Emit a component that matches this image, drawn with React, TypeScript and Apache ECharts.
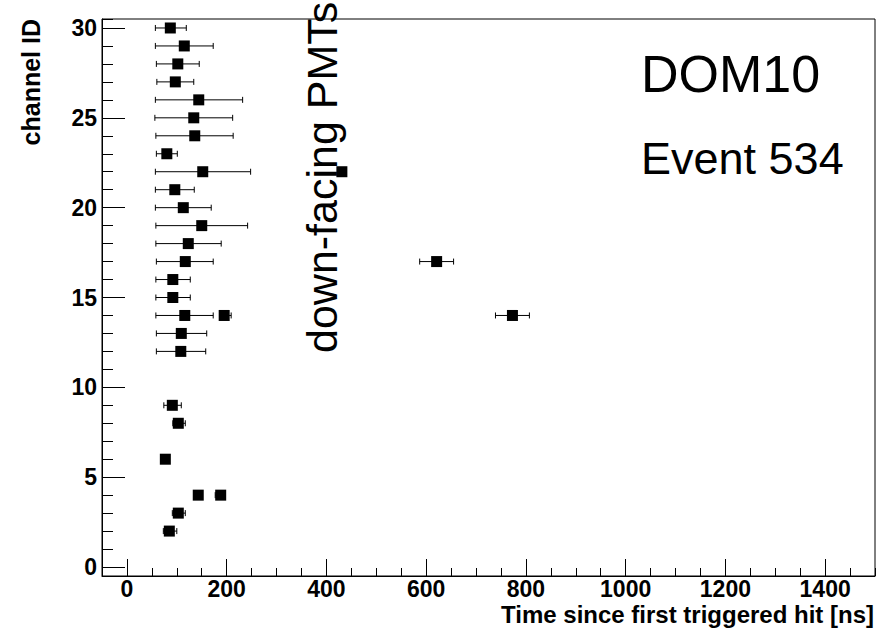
import React, { useEffect, useRef } from "react";
import * as echarts from "echarts";

// channel ID of each hit
const channelIds = [30, 29, 28, 27, 26, 25, 24, 23, 22, 22, 21, 20, 19, 18, 17, 17, 16, 15, 14, 14, 14, 13, 12, 9, 8, 6, 4, 4, 3, 2];
// time since first triggered hit [ns]
const hitTimes = [87, 115, 102, 97, 144, 134, 136, 80, 152, 431, 96, 113, 150, 123, 117, 621, 92, 92, 116, 195, 773, 109, 108, 91, 103, 77, 143, 188, 103, 85];
// lower / upper ends of the horizontal error bars [ns]
const timeErrLow = [57, 57, 59, 60, 57, 56, 58, 59, 57, 426, 57, 57, 58, 58, 59, 587, 58, 58, 58, 187, 739, 59, 59, 74, 92, 77, 143, 177, 91, 73];
const timeErrHigh = [119, 173, 145, 134, 232, 212, 213, 101, 248, 436, 135, 169, 242, 189, 173, 655, 127, 127, 173, 209, 807, 160, 158, 109, 117, 77, 143, 197, 117, 100];

const xTitle = "Time since first triggered hit [ns]";
const yTitle = "channel ID";
const domLabel = "DOM10";
const eventLabel = "Event 534";
const noteLabel = "down-facing PMTs";

export default function App() {
  const ref = useRef<HTMLDivElement>(null);
  useEffect(() => {
    if (!ref.current) return;
    const chart = echarts.init(ref.current, null, { renderer: "svg" });
    const points = hitTimes.map((t, i) => [t, channelIds[i]]);
    const bars = hitTimes
      .map((_, i) => [timeErrLow[i], channelIds[i], timeErrHigh[i]])
      .filter((d) => d[2] > d[0]);
    const gridBox = { left: 102, top: 19, right: 12, bottom: 57 };
    const labelFont = {
      fontFamily: "Liberation Sans, Arial, sans-serif",
      fontWeight: "bold" as const,
      fontSize: 23,
      color: "#000",
    };
    const tickStyle = { color: "#000", width: 1 };
    chart.setOption({
      animation: false,
      backgroundColor: "#fff",
      grid: [
        { ...gridBox, show: true, borderColor: "#000", borderWidth: 1, backgroundColor: "transparent" },
        { ...gridBox, show: false },
      ],
      xAxis: [
        {
          type: "value",
          gridIndex: 0,
          position: "bottom",
          min: -50,
          max: 1500,
          splitNumber: 8,
          minInterval: 200,
          maxInterval: 200,
          axisLine: { show: true, onZero: false, lineStyle: tickStyle },
          axisTick: { show: true, inside: true, length: 17, lineStyle: tickStyle },
          axisLabel: {
            ...labelFont,
            lineHeight: 18,
            margin: 4,
            showMinLabel: false,
            showMaxLabel: false,
            formatter: (v: number) => (v % 200 === 0 ? String(v) : ""),
          },
          splitLine: { show: false },
        },
        {
          type: "value",
          gridIndex: 1,
          position: "bottom",
          min: -50,
          max: 1500,
          splitNumber: 31,
          minInterval: 50,
          maxInterval: 50,
          axisLine: { show: false, onZero: false },
          axisTick: { show: true, inside: true, length: 8, lineStyle: tickStyle },
          axisLabel: { show: false },
          splitLine: { show: false },
        },
      ],
      yAxis: [
        {
          type: "value",
          gridIndex: 0,
          position: "left",
          min: -0.5,
          max: 30.5,
          splitNumber: 6,
          minInterval: 5,
          maxInterval: 5,
          axisLine: { show: true, onZero: false, lineStyle: tickStyle },
          axisTick: { show: true, inside: true, length: 23, lineStyle: tickStyle },
          axisLabel: {
            ...labelFont,
            margin: 5,
            showMinLabel: false,
            showMaxLabel: false,
            formatter: (v: number) => (Number.isInteger(v) && v % 5 === 0 ? String(v) : ""),
          },
          splitLine: { show: false },
        },
        {
          type: "value",
          gridIndex: 1,
          position: "left",
          min: -0.5,
          max: 30.5,
          splitNumber: 31,
          minInterval: 1,
          maxInterval: 1,
          axisLine: { show: false, onZero: false },
          axisTick: { show: true, inside: true, length: 11, lineStyle: tickStyle },
          axisLabel: { show: false },
          splitLine: { show: false },
        },
      ],
      series: [
        {
          type: "custom",
          xAxisIndex: 0,
          yAxisIndex: 0,
          data: bars,
          encode: { x: [0, 2], y: 1 },
          renderItem: (params: any, api: any) => {
            const lo = api.coord([api.value(0), api.value(1)]);
            const hi = api.coord([api.value(2), api.value(1)]);
            const cap = 3;
            const style = { stroke: "#000", lineWidth: 1 };
            return {
              type: "group",
              children: [
                { type: "line", shape: { x1: lo[0], y1: lo[1], x2: hi[0], y2: hi[1] }, style },
                { type: "line", shape: { x1: lo[0], y1: lo[1] - cap, x2: lo[0], y2: lo[1] + cap }, style },
                { type: "line", shape: { x1: hi[0], y1: hi[1] - cap, x2: hi[0], y2: hi[1] + cap }, style },
              ],
            };
          },
          z: 2,
        },
        {
          type: "scatter",
          xAxisIndex: 0,
          yAxisIndex: 0,
          data: points,
          symbol: "rect",
          symbolSize: 11,
          itemStyle: { color: "#000", opacity: 1 },
          z: 3,
        },
      ],
      graphic: [
        {
          type: "text",
          x: 641,
          y: 74,
          style: {
            text: domLabel,
            fontFamily: "Liberation Sans, Arial, sans-serif",
            fontSize: 52,
            fill: "#000",
            align: "left",
            verticalAlign: "middle",
          },
          z: 10,
        },
        {
          type: "text",
          x: 641,
          y: 158,
          style: {
            text: eventLabel,
            fontFamily: "Liberation Sans, Arial, sans-serif",
            fontSize: 45,
            fill: "#000",
            align: "left",
            verticalAlign: "middle",
          },
          z: 10,
        },
        {
          type: "text",
          x: 322,
          y: 353,
          rotation: Math.PI / 2,
          style: {
            text: noteLabel,
            fontFamily: "Liberation Sans, Arial, sans-serif",
            fontSize: 43,
            fill: "#000",
            align: "left",
            verticalAlign: "middle",
          },
          z: 10,
        },
        {
          type: "text",
          x: 31,
          y: 19,
          rotation: Math.PI / 2,
          style: {
            text: yTitle,
            fontFamily: "Liberation Sans, Arial, sans-serif",
            fontWeight: "bold",
            fontSize: 25,
            fill: "#000",
            align: "right",
            verticalAlign: "middle",
          },
          z: 10,
        },
        {
          type: "text",
          x: 874,
          y: 614,
          style: {
            text: xTitle,
            fontFamily: "Liberation Sans, Arial, sans-serif",
            fontWeight: "bold",
            fontSize: 24,
            lineHeight: 20,
            fill: "#000",
            align: "right",
            verticalAlign: "middle",
          },
          z: 10,
        },
      ],
    });
    return () => chart.dispose();
  }, []);
  return (
    <div
      ref={ref}
      style={{ position: "fixed", left: 0, top: 0, width: 887, height: 633, background: "#fff" }}
    />
  );
}
